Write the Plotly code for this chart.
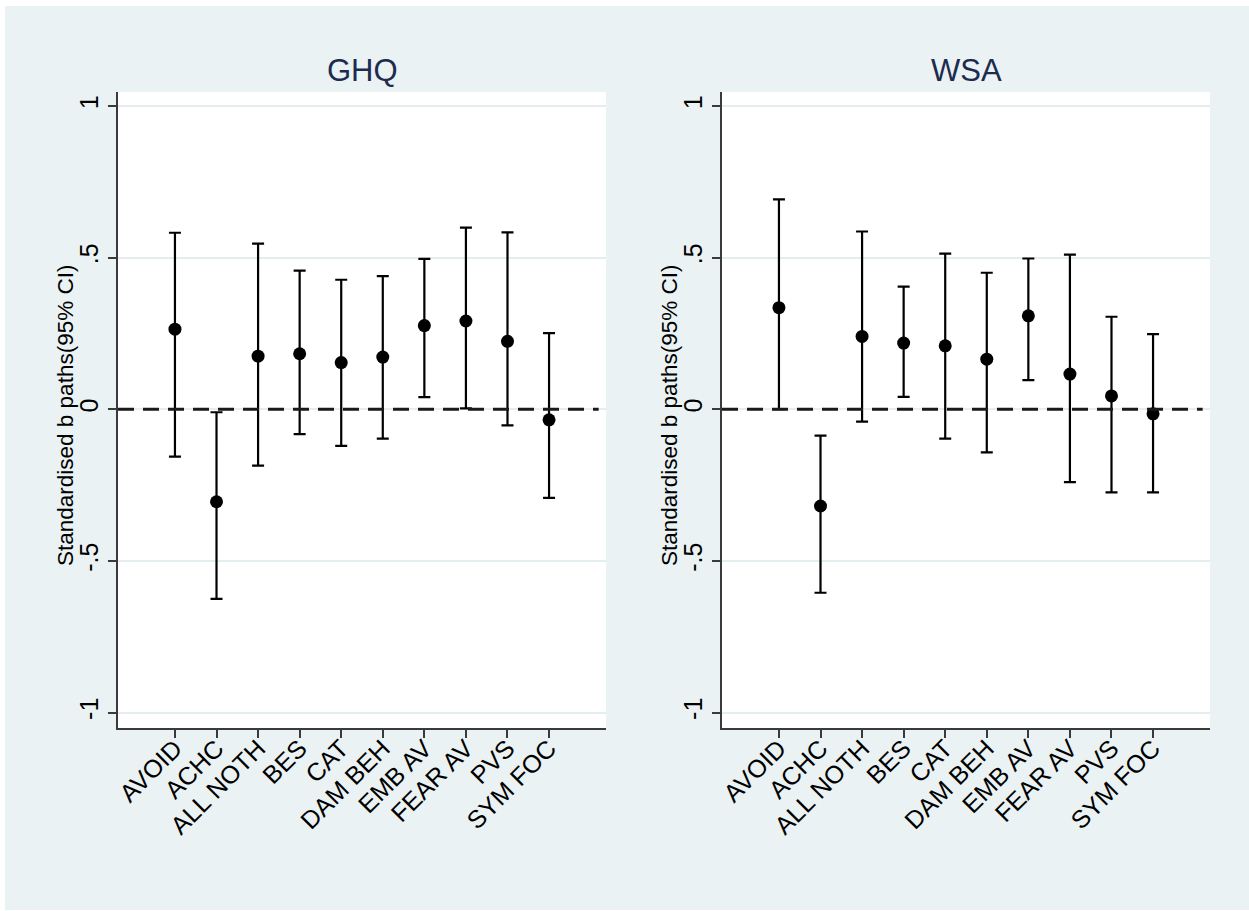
import plotly.graph_objects as go

categories = ["AVOID", "ACHC", "ALL NOTH", "BES", "CAT", "DAM BEH", "EMB AV", "FEAR AV", "PVS", "SYM FOC"]
positions = [1, 2, 3, 4, 5, 6, 7, 8, 9, 10]

ghq_est = [0.264, -0.305, 0.175, 0.183, 0.154, 0.172, 0.276, 0.291, 0.224, -0.035]
ghq_lo = [-0.156, -0.625, -0.186, -0.082, -0.121, -0.097, 0.040, 0.003, -0.053, -0.292]
ghq_hi = [0.582, -0.010, 0.546, 0.457, 0.427, 0.439, 0.496, 0.599, 0.583, 0.251]

wsa_est = [0.335, -0.319, 0.240, 0.218, 0.209, 0.165, 0.308, 0.116, 0.044, -0.015]
wsa_lo = [0.000, -0.605, -0.041, 0.041, -0.097, -0.142, 0.096, -0.240, -0.274, -0.274]
wsa_hi = [0.692, -0.087, 0.586, 0.404, 0.513, 0.450, 0.497, 0.510, 0.305, 0.248]

y_ticks = [-1, -0.5, 0, 0.5, 1]
y_ticktext = ["-1", "-.5", "0", ".5", "1"]
panel_titles = ["GHQ", "WSA"]
y_title = "Standardised b paths(95% CI)"

W, H = 1249, 911
BG = "#EAF2F3"
AX = "#3a3a3a"
FONT = "Liberation Sans, Arial, sans-serif"

fig = go.Figure()

panels = [(ghq_est, ghq_lo, ghq_hi), (wsa_est, wsa_lo, wsa_hi)]
for i, (est, lo, hi) in enumerate(panels):
    plus = [h - e for h, e in zip(hi, est)]
    minus = [e - l for e, l in zip(est, lo)]
    suffix = "" if i == 0 else "2"
    fig.add_trace(go.Scatter(
        x=positions, y=est, mode="markers",
        marker=dict(color="black", size=13, symbol="circle"),
        error_y=dict(type="data", symmetric=False, array=plus, arrayminus=minus,
                     color="black", thickness=2.2, width=6),
        xaxis="x" + suffix, yaxis="y" + suffix, showlegend=False, cliponaxis=False,
    ))

x_domains = [[118 / W, 606 / W], [722 / W, 1210 / W]]
y_domain = [1 - 728 / H, 1 - 92 / H]
ytitle_x = [65 / W, 669 / W]

common_x = dict(range=[-0.37, 11.37], tickmode="array", tickvals=positions, ticktext=categories,
                tickangle=-45, showgrid=False, zeroline=False, showline=True, linecolor=AX,
                linewidth=1.6, ticks="outside", ticklen=8, tickwidth=1.6, tickcolor=AX,
                ticklabelstandoff=-14,
                tickfont=dict(family=FONT, size=25, color="black"), automargin=False, fixedrange=True)
common_y = dict(range=[-1.051, 1.046], tickmode="array", tickvals=y_ticks, ticktext=y_ticktext,
                tickangle=-90, showgrid=True, gridcolor="#E4EDEF", gridwidth=1.8, zeroline=False,
                showline=True, linecolor=AX, linewidth=1.6, ticks="outside", ticklen=8,
                tickwidth=1.6, tickcolor=AX, tickfont=dict(family=FONT, size=25, color="black"),
                automargin=False, fixedrange=True)

fig.update_layout(
    width=W, height=H,
    margin=dict(l=0, r=0, t=0, b=0),
    paper_bgcolor=BG, plot_bgcolor="white",
    xaxis=dict(domain=x_domains[0], anchor="y", **common_x),
    yaxis=dict(domain=y_domain, anchor="x", **common_y),
    xaxis2=dict(domain=x_domains[1], anchor="y2", **common_x),
    yaxis2=dict(domain=y_domain, anchor="x2", **common_y),
    font=dict(family=FONT),
)

shapes = []
for i in range(2):
    suffix = "" if i == 0 else "2"
    shapes.append(dict(type="line", xref="x" + suffix + " domain", yref="y" + suffix,
                       x0=0, x1=0.985, y0=0, y1=0,
                       line=dict(color="#1a1a1a", width=3, dash="16px,9px"), layer="above"))
# white outer frame strips
shapes.append(dict(type="rect", xref="paper", yref="paper", x0=0, x1=1, y0=1 - 6 / H, y1=1,
                   fillcolor="white", line=dict(width=0), layer="above"))
shapes.append(dict(type="rect", xref="paper", yref="paper", x0=0, x1=5 / W, y0=0, y1=1,
                   fillcolor="white", line=dict(width=0), layer="above"))
shapes.append(dict(type="rect", xref="paper", yref="paper", x0=0, x1=1, y0=0, y1=1 / H,
                   fillcolor="white", line=dict(width=0), layer="above"))
fig.update_layout(shapes=shapes)

for i, t in enumerate(panel_titles):
    cx = (x_domains[i][0] + x_domains[i][1]) / 2
    fig.add_annotation(text=t, xref="paper", yref="paper", x=cx, y=1 - 70 / H,
                       xanchor="center", yanchor="middle", showarrow=False,
                       font=dict(family=FONT, size=31, color="#1c2b50"))
    fig.add_annotation(text=y_title, xref="paper", yref="paper", x=ytitle_x[i],
                       y=1 - 416 / H, textangle=-90,
                       xanchor="center", yanchor="middle", showarrow=False,
                       font=dict(family=FONT, size=22.5, color="black"))

fig.write_html("out.html", config={"displayModeBar": False},
               post_script="document.body.style.margin='0px';document.body.style.overflow='hidden';")
